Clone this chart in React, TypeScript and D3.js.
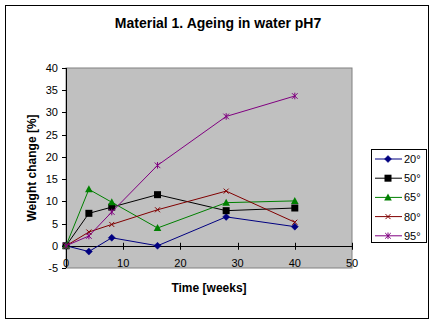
import React from "react";
import * as d3 from "d3";

const weeks = [0, 4, 8, 16, 28, 40];
const seriesNames = ["20°", "50°", "65°", "80°", "95°"];
const s20 = [0, -1.3, 1.8, 0, 6.5, 4.3];
const s50 = [0, 7.3, 8.7, 11.5, 7.9, 8.5];
const s65 = [0, 12.7, 9.8, 4.0, 9.7, 10.1];
const s80 = [0, 3.1, 4.8, 8.1, 12.3, 5.3];
const s95 = [0, 2.2, 7.6, 18.1, 29.1, 33.7];
const colors = ["#000080", "#000000", "#008000", "#800000", "#800080"];
const markerTypes = ["diamond", "square", "triangle", "x", "star"];
const xTicks = [0, 10, 20, 30, 40, 50];
const yTicks = [-5, 0, 5, 10, 15, 20, 25, 30, 35, 40];

const allSeries = [s20, s50, s65, s80, s95];

function Marker({ type, x, y, color }: { type: string; x: number; y: number; color: string }) {
  if (type === "diamond") {
    return <path d={`M${x},${y - 3.5}L${x + 3.5},${y}L${x},${y + 3.5}L${x - 3.5},${y}Z`} fill={color} stroke={color} strokeWidth={0.5} />;
  }
  if (type === "square") {
    return <rect x={x - 3.5} y={y - 3.5} width={7} height={7} fill={color} />;
  }
  if (type === "triangle") {
    return <path d={`M${x},${y - 4}L${x + 3.8},${y + 3}L${x - 3.8},${y + 3}Z`} fill={color} />;
  }
  if (type === "x") {
    return (
      <path d={`M${x - 2.5},${y - 2.5}L${x + 2.5},${y + 2.5}M${x + 2.5},${y - 2.5}L${x - 2.5},${y + 2.5}`} stroke={color} strokeWidth={1} fill="none" />
    );
  }
  return (
    <path
      d={`M${x - 2.8},${y - 2.8}L${x + 2.8},${y + 2.8}M${x + 2.8},${y - 2.8}L${x - 2.8},${y + 2.8}M${x},${y - 3.3}L${x},${y + 3.3}`}
      stroke={color}
      strokeWidth={1}
      fill="none"
    />
  );
}

export default function App() {
  const W = 435;
  const H = 325;
  const pl = 66, pr = 352, pt = 68, pb = 268;
  const x = d3.scaleLinear().domain([0, 50]).range([pl, pr]);
  const y = d3.scaleLinear().domain([-5, 40]).range([pb, pt]);
  const line = d3
    .line<[number, number]>()
    .x((d) => x(d[0]))
    .y((d) => y(d[1]));
  const font = "Arial, 'Liberation Sans', sans-serif";
  const y0 = y(0);

  return (
    <svg
      width={W}
      height={H}
      style={{ position: "absolute", left: 0, top: 0, background: "#fff" }}
      fontFamily={font}
    >
      <rect x={5.5} y={5.5} width={423} height={313} fill="#fff" stroke="#000" strokeWidth={1} />
      <text x={218} y={28} textAnchor="middle" fontSize={14} fontWeight="bold">
        Material 1. Ageing in water pH7
      </text>
      <rect x={pl} y={pt} width={pr - pl} height={pb - pt} fill="#c0c0c0" stroke="#808080" strokeWidth={1} />
      {/* y axis */}
      <line x1={pl + 0.5} y1={pt} x2={pl + 0.5} y2={pb} stroke="#000" />
      {yTicks.map((t) => (
        <g key={"y" + t}>
          <line x1={pl - 4} x2={pl} y1={Math.round(y(t)) + 0.5} y2={Math.round(y(t)) + 0.5} stroke="#000" />
          <text x={58} y={y(t) + 4} textAnchor="end" fontSize={11}>
            {t}
          </text>
        </g>
      ))}
      {/* x axis at y=0 */}
      <line x1={pl} y1={Math.round(y0) + 0.5} x2={pr} y2={Math.round(y0) + 0.5} stroke="#000" />
      {xTicks.map((t) => (
        <g key={"x" + t}>
          <line x1={Math.round(x(t)) + 0.5} x2={Math.round(x(t)) + 0.5} y1={y0 - 3} y2={y0 + 4} stroke="#000" />
          <text x={x(t)} y={y0 + 21} textAnchor="middle" fontSize={11}>
            {t}
          </text>
        </g>
      ))}
      {allSeries.map((s, i) => {
        const pts = weeks.map((w, j) => [w, s[j]] as [number, number]);
        return (
          <g key={"s" + i}>
            <path d={line(pts) || ""} fill="none" stroke={colors[i]} strokeWidth={1} />
            {pts.map((p, j) => (
              <Marker key={j} type={markerTypes[i]} x={x(p[0])} y={y(p[1])} color={colors[i]} />
            ))}
          </g>
        );
      })}
      <text
        transform={`translate(36,${(pt + pb) / 2}) rotate(-90)`}
        textAnchor="middle"
        fontSize={12}
        fontWeight="bold"
      >
        Weight change [%]
      </text>
      <text x={209} y={292} textAnchor="middle" fontSize={12} fontWeight="bold">
        Time [weeks]
      </text>
      {/* legend */}
      <rect x={371.5} y={149.5} width={55} height={93} fill="#fff" stroke="#000" strokeWidth={1} />
      {seriesNames.map((n, i) => {
        const ly = 159 + i * 19.2;
        return (
          <g key={"l" + i}>
            <line x1={375} x2={402} y1={ly} y2={ly} stroke={colors[i]} />
            <Marker type={markerTypes[i]} x={388} y={ly} color={colors[i]} />
            <text x={404} y={ly + 4} fontSize={11}>
              {n}
            </text>
          </g>
        );
      })}
    </svg>
  );
}
